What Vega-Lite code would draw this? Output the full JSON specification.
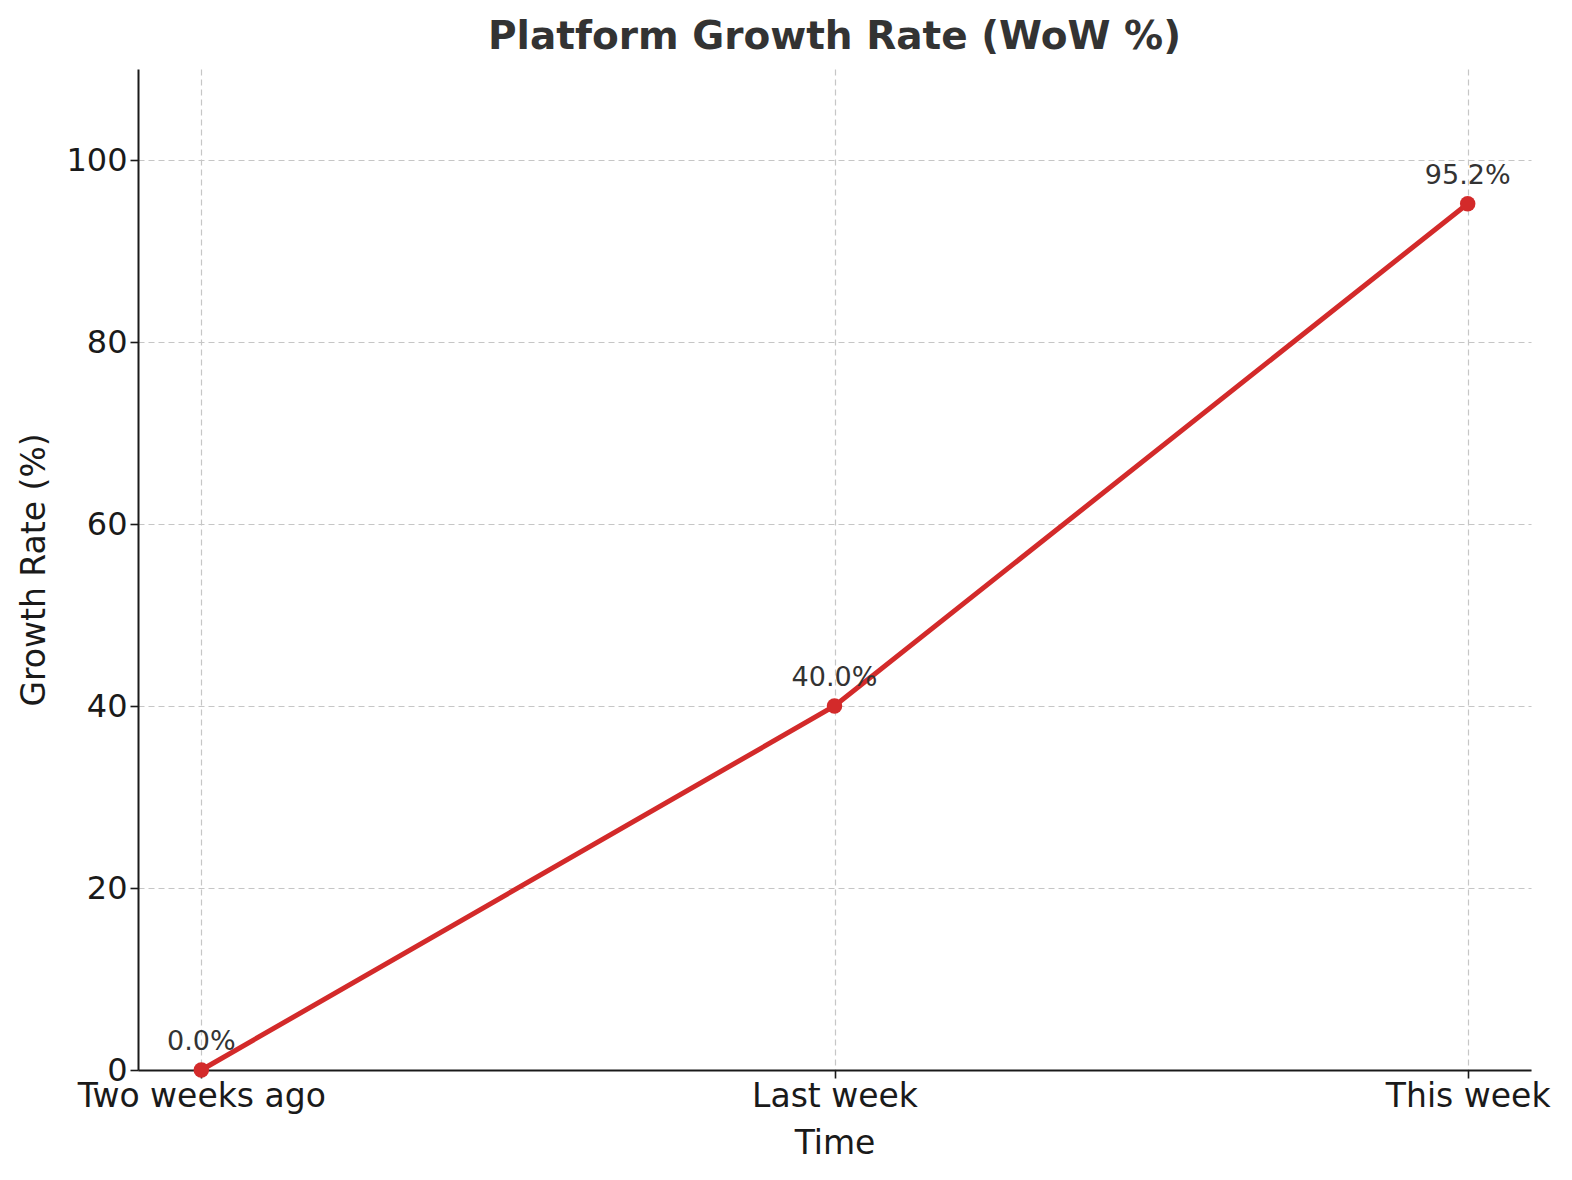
{
  "$schema": "https://vega.github.io/schema/vega-lite/v6.json",
  "autosize": "none",
  "padding": {"left": 138, "top": 69, "right": 40, "bottom": 110},
  "width": 1393,
  "height": 1001,
  "background": "white",
  "config": {
    "font": "DejaVu Sans",
    "view": {"stroke": null},
    "axis": {
      "domainColor": "#1a1a1a",
      "domainWidth": 2,
      "tickColor": "#1a1a1a",
      "tickWidth": 1.6,
      "tickSize": 8,
      "labelColor": "#1a1a1a",
      "labelFont": "DejaVu Sans",
      "labelFontSize": 32,
      "labelLimit": 400,
      "titleFont": "DejaVu Sans",
      "titleFontSize": 33,
      "titleFontWeight": "normal",
      "titleColor": "#1a1a1a",
      "gridColor": "#c6c6c6",
      "gridDash": [6, 4],
      "gridWidth": 1.2
    }
  },
  "title": {
    "text": "Platform Growth Rate (WoW %)",
    "fontSize": 39,
    "fontWeight": "bold",
    "color": "#333333",
    "font": "DejaVu Sans",
    "anchor": "middle",
    "offset": 12
  },
  "data": {
    "values": [
      {"period": "Two weeks ago", "growth": 0.0},
      {"period": "Last week", "growth": 40.0},
      {"period": "This week", "growth": 95.2}
    ]
  },
  "encoding": {
    "x": {
      "field": "period",
      "type": "ordinal",
      "sort": null,
      "title": "Time",
      "scale": {"type": "point", "padding": 0.1},
      "axis": {"labelAngle": 0, "grid": true, "labelPadding": 2, "labelFontSize": 33, "titlePadding": 14}
    },
    "y": {
      "field": "growth",
      "type": "quantitative",
      "title": "Growth Rate (%)",
      "scale": {"domain": [0, 110], "nice": false},
      "axis": {"values": [0, 20, 40, 60, 80, 100], "grid": true, "labelPadding": 3, "titlePadding": 14}
    }
  },
  "layer": [
    {
      "mark": {"type": "line", "color": "#d32a2a", "strokeWidth": 5, "clip": false}
    },
    {
      "mark": {"type": "point", "filled": true, "opacity": 1, "color": "#d32a2a", "size": 240, "clip": false}
    },
    {
      "mark": {
        "type": "text",
        "fontSize": 27,
        "color": "#333333",
        "dy": -28,
        "baseline": "middle",
        "align": "center",
        "text": {"expr": "format(datum.growth, '.1f') + '%'"}
      }
    }
  ]
}
